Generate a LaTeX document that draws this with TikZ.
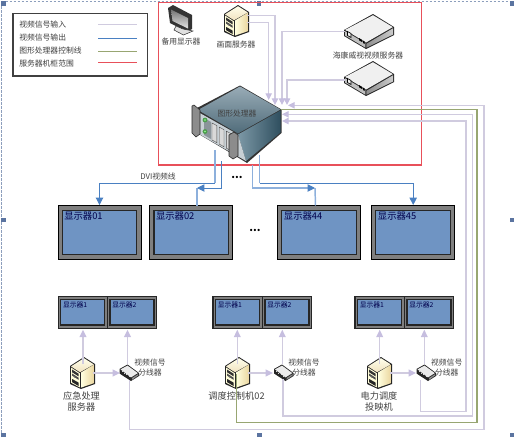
\documentclass[tikz,border=0pt]{standalone}
\usepackage{fontspec}
\setmainfont{Noto Sans CJK SC}
\usetikzlibrary{arrows.meta,calc}
\definecolor{vin}{HTML}{D0CBDF}
\definecolor{vinb}{HTML}{C6BEDF}
\definecolor{vout}{HTML}{4A80C2}
\definecolor{voutl}{HTML}{8DB0DC}
\definecolor{ctrl}{HTML}{98A672}
\definecolor{cab}{HTML}{E8505A}
\definecolor{scr}{HTML}{6F94C3}
\definecolor{frameg}{HTML}{7F7F7F}
\definecolor{txt}{HTML}{404040}
\definecolor{sel}{HTML}{5B74A0}
\definecolor{gpT}{HTML}{98ABB6}
\definecolor{gpTb}{HTML}{506C7A}
\definecolor{gpR}{HTML}{7C98A6}
\definecolor{gpRb}{HTML}{2F4F5F}
\definecolor{gpF}{HTML}{C8D0D5}
\definecolor{gpE}{HTML}{8A949A}
\tikzset{
  inwire/.style={draw=vin,line width=.85pt},
  inarrow/.style={inwire,-{Triangle[length=5pt,width=4.8pt,color=vinb]}},
  feedarrow/.style={draw=vin,line width=1.1pt,-{Triangle[length=5.5pt,width=5pt,color=vinb]}},
  ctrlwire/.style={draw=ctrl,line width=.8pt},
  outthin/.style={draw=vout,line width=.7pt},
  outthick/.style={draw=voutl,line width=1.1pt},
  outarrow/.style={draw=vout,line width=.7pt,-{Triangle[length=5.5pt,width=5.5pt,color=vout]}},
  lab/.style={font=\fontsize{5.85pt}{7pt}\selectfont,text=txt,inner sep=0pt},
  labbig/.style={font=\fontsize{6.9pt}{8pt}\selectfont,text=txt,inner sep=0pt},
  monbig/.style={font=\fontsize{7pt}{8pt}\selectfont,text=black!70!blue,inner sep=0pt,anchor=west},
  monsmall/.style={font=\fontsize{5.1pt}{6pt}\selectfont,text=black!70!blue,inner sep=0pt,anchor=west},
  bigframe/.style={draw=black,line width=.7pt,fill=frameg,inner sep=0pt,minimum width=62.25pt,minimum height=40.5pt},
  bigscreen/.style={draw=black!85,line width=.9pt,fill=scr,inner sep=0pt,minimum width=56pt,minimum height=33.5pt},
  pairframe/.style={draw=black!85,line width=.8pt,fill=frameg,inner sep=0pt,minimum width=37pt,minimum height=24pt},
  pairscreen/.style={draw=black!85,line width=.8pt,fill=scr,inner sep=0pt,minimum width=33pt,minimum height=19pt},
  spot/.style={inner sep=0pt,minimum size=0pt},
  handle/.style={fill=sel,inner sep=0pt,minimum size=3.4pt},
  pics/tower/.style={code={
    \fill[black!85] (2,-16)--(13,-9)--(13,11)--(-1,16)--(-12,11)--(-12,-7)--cycle;
    \shade[left color=yellow!12!white,right color=yellow!30!brown!45] (-1,-0.5)--(11.8,-8.3)--(11.8,10.2)--(-1,14.6)--cycle;
    \shade[top color=yellow!8!white,bottom color=yellow!25!brown!30] (2,-14.8)--(11.8,-8.6)--(-2,-0.8)--(-11,-6.6)--cycle;
    \fill[yellow!15!white] (-10.8,-5.4)--(-2.2,0.2)--(-2.2,14.4)--(-10.8,9.8)--cycle;
    \fill[black!80] (-9.8,-3.4)--(-3.4,0.7)--(-3.4,3.4)--(-9.8,-.7)--cycle;
    \fill[black!70] (-9.8,0.6)--(-3.4,4.7)--(-3.4,6.8)--(-9.8,2.7)--cycle;
    \fill[black!60] (-7.5,3.8) circle (.9);
    \fill[black!85] (-9.8,6)--(-3.4,9.6)--(-3.4,13)--(-9.8,9.2)--cycle;
  }},
  pics/boxdev/.style={code={
    \fill[black!85] (4,-17.5)--(25,-4.5)--(25,3.5)--(-3,17.5)--(-25,4.5)--(-25,-1.5)--cycle;
    \fill[black!6] (4,-16.3)--(23.8,-4.4)--(-3,11)--(-23.8,-1.6)--cycle;
    \shade[left color=black!45,right color=black!20] (-2.6,12.3)--(24,-3.2)--(24,3)--(-2.6,16.2)--cycle;
    \fill[black!25] (-24,-.4)--(-3.6,11.8)--(-3.6,16.2)--(-24,4)--cycle;
    \draw[black,line width=.5pt,fill=black!5] (-21.5,0)--(-18,2)--(-18,6)--(-21.5,4)--cycle;
    \fill[black] (-10,6.5)--(-7,8.3)--(-7,10.5)--(-10,8.7)--cycle (-6,9)--(-4.4,10)--(-4.4,12.5)--(-6,11.5)--cycle;
  }},
  pics/splitter/.style={code={
    \fill[black!85] (-1.5,-8.5)--(10,0)--(10,3)--(2,8)--(-9.5,.5)--(-9.5,-4)--cycle;
    \fill[black!8] (-1.5,-7.4)--(8.8,.1)--(2,4.4)--(-8.5,-3.6)--cycle;
    \fill[black!45] (3,5)--(9,1.2)--(9,2.6)--(3,6.8)--cycle;
    \foreach \i in {0,1,2,3} {\fill[white!85!black] ({-7.5+\i*2.4},{-2.4+\i*1.9}) rectangle ++(1,1);}
  }},
}
\begin{document}
\begin{tikzpicture}[x=.75pt,y=-.75pt]
\useasboundingbox (0,0) rectangle (514,437);
% selection frame
\draw[sel!70,line width=.7pt,dash pattern=on 2pt off 1pt] (1.5,437)--(1.5,1)--(510,1);
\foreach \n/\x/\y in {hA/3.5/3.5,hB/259/3.5,hC/512.5/3.5,hD/3.5/220,hE/512.5/220,hF/3.5/435,hG/259.5/435,hH/512.5/435}
  \node[handle] (\n) at (\x,\y) {};
% legend
\node[draw=black!75,line width=.9pt,fill=white,minimum width=100.9pt,minimum height=46.9pt,inner sep=0pt] (legend) at (80.3,44.8) {};
\foreach \n/\y/\t in {la/24.5/视频信号输入,lb/37.5/视频信号输出,lc/51/图形处理器控制线,ld/63.5/服务器机柜范围}
  \node[lab,anchor=west] (\n) at (19,\y) {\t};
\coordinate (l1a) at (98,24.5); \coordinate (l1b) at (137,24.5);
\coordinate (l2a) at (98,38);   \coordinate (l2b) at (137,38);
\coordinate (l3a) at (98,51.5); \coordinate (l3b) at (137,51.5);
\coordinate (l4a) at (98,62.5); \coordinate (l4b) at (137,62.5);
\draw[inwire] (l1a)--(l1b);
\draw[outthin] (l2a)--(l2b);
\draw[ctrlwire] (l3a)--(l3b);
\draw[cab,line width=.85pt] (l4a)--(l4b);
% cabinet
\node[draw=cab,line width=.9pt,minimum width=197.2pt,minimum height=121.9pt,inner sep=0pt] (cabinet) at (289.8,83.75) {};
% backup monitor
\fill[black!80] (168,8)--(173,5)--(192,15)--(192,29)--(187,31.5)--(170,23)--cycle;
\shade[top color=black!55,bottom color=black!10] (171,9.5)--(188,18)--(188,28.5)--(172.5,21)--cycle;
\fill[black!12,draw=black!80,line width=.4pt] (176,26)--(183,29)--(193,31)--(183.5,35)--(174,30)--cycle;
\node[lab] (backup) at (181,42) {备用显示器};
% picture server
\pic at (236,21) {tower};
\node[spot,minimum width=18pt,minimum height=24pt] (srvpic) at (236,21) {};
\node[lab] (srvpicl) at (236,45) {画面服务器};
% Hikvision boxes
\pic at (369,31.5) {boxdev};
\node[spot,minimum width=36pt,minimum height=24pt] (hik1) at (369,31.5) {};
\pic at (369,78.5) {boxdev};
\node[spot,minimum width=36pt,minimum height=24pt] (hik2) at (369,78.5) {};
\node[lab] (hikl) at (368,55.5) {海康威视视频服务器};
% graphics processor
\path[fill=black!80] (240,85.5)--(281.5,109.5)--(281.5,133)--(247,163)--(229,152)--(197,133)--(197,108)--cycle;
\shade[top color=gpT,bottom color=gpTb] (240,86.5)--(280.5,109.5)--(238,133.5)--(198,110)--cycle;
\shade[left color=gpR,right color=gpRb] (238,134.5)--(280.5,110.5)--(280.5,132.5)--(246,161)--cycle;
\fill[gpF] (198,112)--(238,134.5)--(246,161)--(199,134)--cycle;
\fill[gpE] (204,118)--(211,122)--(211,139)--(204,135)--cycle;
\fill[green!45!black!70] (205,120) circle (2.4) (205,131.5) circle (2.4);
\fill[white!60!green] (205,120) circle (.9) (205,131.5) circle (.9);
\foreach \i in {0,1,2} {\fill[white!85!black,draw=black!70,line width=.3pt] ({212+\i*7.2},{123+\i*4.1})--++(4.8,2.6)--++(0,17)--++(-4.8,-2.6)--cycle;}
\fill[black!45,draw=black!85,line width=.4pt] (192,106)--(194,105)--(200,110)--(200,134)--(196,137)--(192,133)--cycle;
\fill[black!45,draw=black!85,line width=.4pt] (229,135)--(234,132)--(238,135)--(238,156)--(233,159)--(229,156)--cycle;
\node[lab] (gp) at (237,113.5) {图形处理器};
% big monitors
\foreach \n/\x/\t in {monA/99.5/显示器01,monB/191.3/显示器02,monC/319.2/显示器44,monD/413.2/显示器45} {
  \node[bigframe] (\n) at (\x,232.5) {};
  \node[bigscreen] (\n s) at (\x,232.5) {};
  \node[monbig] (\n t) at (\x-35.5,216.5) {\t};
}
% small monitor pairs
\foreach \n/\x/\t in {pA/82.8/1,pB/132/2,pC/237.5/1,pD/287/2,pE/379.5/1,pF/429/2} {
  \node[pairframe,minimum width=36.8pt] (\n) at (\x,312.5) {};
  \node[pairscreen] (\n s) at (\x,312.3) {};
  \node[monsmall] (\n t) at (\x-20,305.3) {显示器\t};
}
% bottom servers and splitters
\foreach \n/\x in {srA/82,srB/237,srC/379}{
  \begin{scope}[shift={(\x,373)},xscale=.86,yscale=.94]\pic {tower};\end{scope}
  \node[spot,minimum width=16pt,minimum height=22pt] (\n) at (\x,373) {};
}
\foreach \n/\x in {spA/129,spB/283.5,spC/426}{
  \begin{scope}[shift={(\x,373)}]\pic {splitter};\end{scope}
  \node[spot,minimum width=14pt,minimum height=10pt] (\n) at (\x,373) {};
}
\node[labbig] (srAa) at (81.5,396) {应急处理};
\node[labbig] (srAb) at (81.5,407) {服务器};
\node[labbig] (srBa) at (236.5,396) {调度控制机02};
\node[labbig] (srCa) at (379,396) {电力调度};
\node[labbig] (srCb) at (379,407) {投映机};
\foreach \n/\x in {spAl/150,spBl/304,spCl/446.7}{
  \node[lab] (\n a) at (\x,363) {视频信号};
  \node[lab] (\n b) at (\x,372.5) {分线器};
}
% ports on the graphics processor
\coordinate (gpT1) at (268.7,100);
\coordinate (gpT2) at (275,105);
\coordinate (gpT3) at (282,105);
\coordinate (gpT4) at (287,105);
\coordinate (gpR1) at (288,105.3);
\coordinate (gpR2) at (281,109.7);
\coordinate (gpR3) at (282,114.3);
\coordinate (gpR4) at (282,121);
% wires into the graphics processor
\coordinate (srvP1) at (247,15.5);
\coordinate (srvP2) at (247,22.5);
\draw[inarrow] (srvP1) -| (gpT2);
\draw[inarrow] (srvP2) -| (gpT1);
\coordinate (hikP1) at (345,31.7);
\coordinate (hikP2) at (345,80);
\draw[inarrow] (hikP1) -| (gpT3);
\draw[inarrow] (hikP2) -| (gpT4);
\coordinate (cO) at (484,429.3);
\coordinate (cG) at (477,422.7);
\coordinate (cM) at (472.7,416);
\coordinate (cI) at (466,411.3);
\coordinate (spAp) at (129.3,380);
\coordinate (srBp) at (236.3,374);
\coordinate (spBp) at (283,379);
\coordinate (spCp) at (420.7,380);
\draw[inarrow] (spAp) |- (cO) |- (gpR1);
\draw[ctrlwire] (srBp) |- (cG) |- (gpR2);
\draw[inarrow] (spBp) |- (cM) |- (gpR3);
\draw[inarrow] (spCp) |- (cI) |- (gpR4);
% wires out of the graphics processor
\coordinate (oA) at (215,150); \coordinate (oAm) at (215,183);
\coordinate (oB) at (221.7,161); \coordinate (oBm) at (197,188);
\coordinate (oC) at (259.7,155); \coordinate (oCm) at (259.7,183);
\coordinate (oD) at (252.7,165); \coordinate (oDm) at (315,188);
\draw[outthick] (oA)--(oAm);
\draw[outarrow] (oAm) -| (monA.north);
\draw[outthick] (oC)--(oCm);
\draw[outarrow] (oCm) -| (monD.north);
\coordinate (mBt) at (197,205.5);
\coordinate (mCt) at (315.5,205.5);
\draw[outthick] (mBt)--(oBm);
\draw[outthick] (mCt)--(oDm);
\draw[outarrow] (oB) |- (oBm);
\draw[outthick] (oD) |- ($(oDm)+(-6,0)$);
\draw[outarrow] ($(oDm)+(-7,0)$)--(oDm);
\node[lab] (dvi) at (158,177) {DVI视频线};
\node[font=\bfseries\fontsize{8pt}{8pt}\selectfont,inner sep=0pt] (dotsA) at (237,177) {...};
\node[font=\bfseries\fontsize{8pt}{8pt}\selectfont,inner sep=0pt] (dotsB) at (255,230) {...};
% local feeds
\foreach \s/\sx/\t/\tx in {srA/83/pA/83,spA/127.5/pB/127.5,srB/237.3/pC/237.3,spB/282.3/pD/282.3,srC/379.7/pE/379.7,spC/424.3/pF/424.3}{
  \coordinate (\s up) at (\sx,364);
  \coordinate (\t dn) at (\tx,329.7);
  \draw[feedarrow] (\s up)--(\t dn);
}
\coordinate (fA) at (93,373); \coordinate (fB) at (247.5,373); \coordinate (fC) at (390,373);
\coordinate (gA) at (120,373); \coordinate (gB) at (273,373); \coordinate (gC) at (416,373);
\draw[feedarrow] (fA)--(gA);
\draw[feedarrow] (fB)--(gB);
\draw[feedarrow] (fC)--(gC);
\end{tikzpicture}
\end{document}
